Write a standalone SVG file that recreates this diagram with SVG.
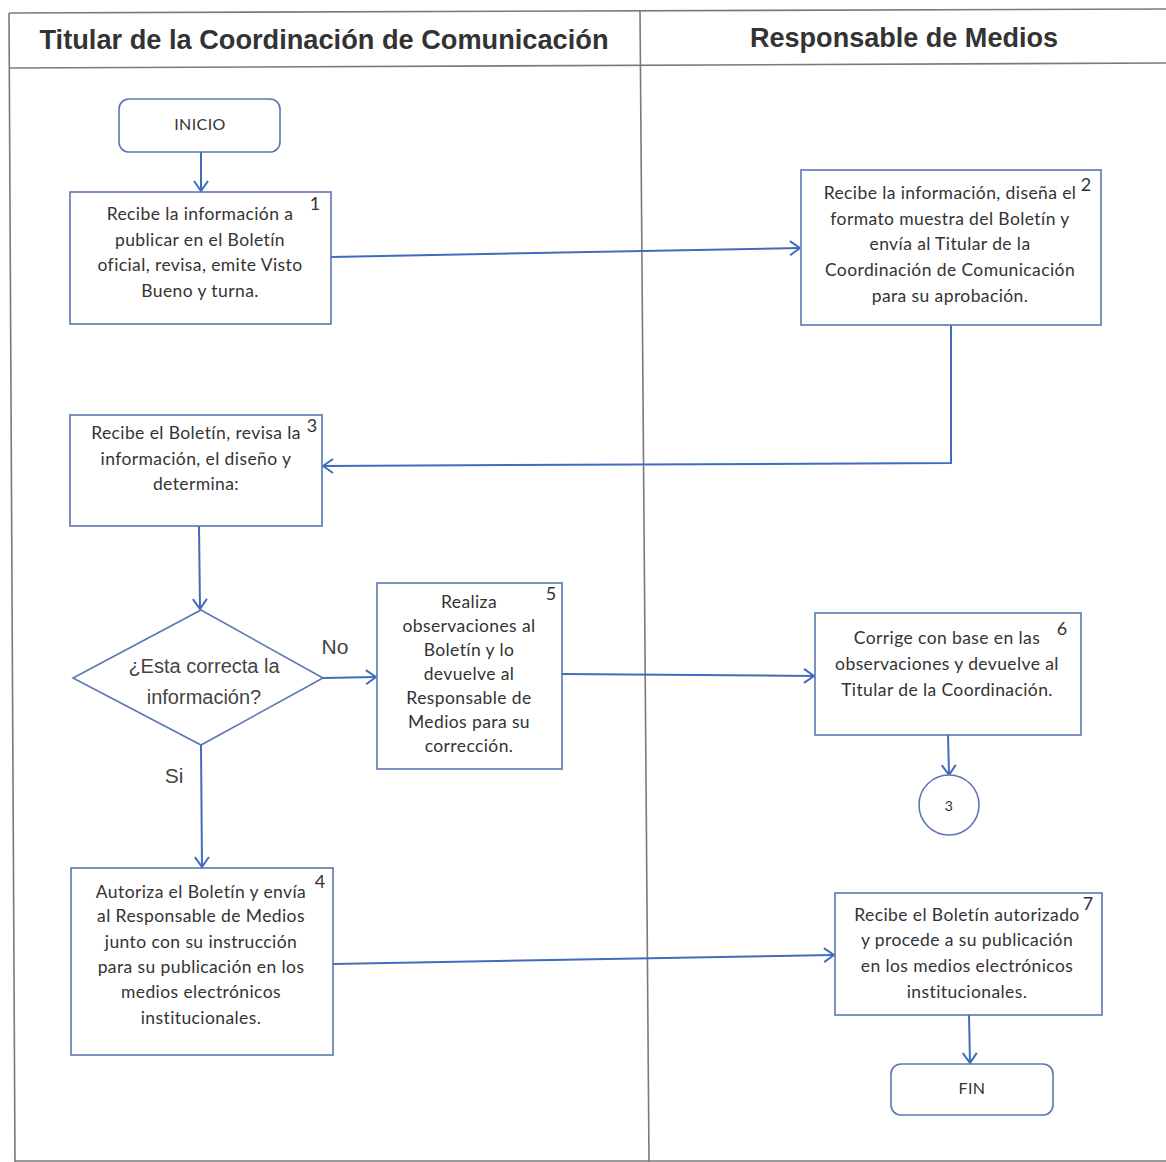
<svg xmlns="http://www.w3.org/2000/svg" width="1166" height="1162" viewBox="0 0 1166 1162">
  <style>
    .frame { stroke: #7a7a7a; stroke-width: 1.6; fill: none; }
    .lane-title { font-family: "Liberation Sans", Arial, sans-serif; font-weight: bold; font-size: 27px; fill: #333; text-anchor: middle; }
    .box { fill: #ffffff; stroke: #5b77b0; stroke-width: 1.6; }
    .txt { font-family: Lato, "Open Sans", sans-serif; font-size: 17.5px; letter-spacing: 0.4px; fill: #333; text-anchor: middle; }
    .num { font-family: Lato, "Open Sans", sans-serif; font-size: 18px; fill: #333; text-anchor: middle; }
    .q { font-family: "Liberation Sans", Arial, sans-serif; font-size: 20px; fill: #444; text-anchor: middle; }
    .lbl { font-family: "Liberation Sans", Arial, sans-serif; font-size: 21px; fill: #444; text-anchor: middle; }
    .flow { fill: none; stroke: #3f6cbc; stroke-width: 2; marker-end: url(#arrow); }
  </style>
  <defs>
    <marker id="arrow" viewBox="0 0 12 16" refX="11" refY="8" markerWidth="12" markerHeight="16" markerUnits="userSpaceOnUse" orient="auto">
      <path d="M1,1 L11,8 L1,15" fill="none" stroke="#3f6cbc" stroke-width="2"/>
    </marker>
  </defs>

  <rect width="1166" height="1162" fill="#ffffff"/>

  <!-- swimlane table -->
  <g id="lanes">
    <line class="frame" x1="9" y1="13" x2="1166" y2="9"/>
    <line class="frame" x1="9" y1="68" x2="1166" y2="63"/>
    <line class="frame" x1="9" y1="13" x2="15" y2="1162"/>
    <line class="frame" x1="640" y1="11" x2="649" y2="1162"/>
    <line class="frame" x1="15" y1="1161" x2="1166" y2="1161"/>
    <text class="lane-title" x="324" y="49" textLength="569" lengthAdjust="spacingAndGlyphs">Titular de la Coordinación de Comunicación</text>
    <text class="lane-title" x="904" y="47" textLength="308" lengthAdjust="spacingAndGlyphs">Responsable de Medios</text>
  </g>

  <!-- connectors -->
  <g id="connectors">
    <path class="flow" d="M201,152 L201,191"/>
    <path class="flow" d="M331,257 L800,248"/>
    <path class="flow" d="M951,325 L951,463 L323,466"/>
    <path class="flow" d="M199,526 L200,609"/>
    <path class="flow" d="M323,678 L376,677"/>
    <path class="flow" d="M562,674 L814,676"/>
    <path class="flow" d="M948,735 L949,775"/>
    <path class="flow" d="M201,745 L202,867"/>
    <path class="flow" d="M333,964 L834,955"/>
    <path class="flow" d="M969,1015 L970,1063"/>
    <text class="lbl" x="335" y="654">No</text>
    <text class="lbl" x="174" y="783">Si</text>
  </g>

  <g id="inicio">
    <rect class="box" x="119" y="99" width="161" height="53" rx="10"/>
    <text class="txt" x="200" y="130" style="font-size:16px">INICIO</text>
  </g>

  <g id="step1">
    <rect class="box" x="70" y="192" width="261" height="132"/>
    <text class="num" x="315" y="210">1</text>
    <text class="txt" x="200" y="220">Recibe la información a</text>
    <text class="txt" x="200" y="246">publicar en el Boletín</text>
    <text class="txt" x="200" y="271">oficial, revisa, emite Visto</text>
    <text class="txt" x="200" y="297">Bueno y turna.</text>
  </g>

  <g id="step2">
    <rect class="box" x="801" y="170" width="300" height="155"/>
    <text class="num" x="1086" y="191">2</text>
    <text class="txt" x="950" y="199">Recibe la información, diseña el</text>
    <text class="txt" x="950" y="225">formato muestra del Boletín y</text>
    <text class="txt" x="950" y="250">envía al Titular de la</text>
    <text class="txt" x="950" y="276">Coordinación de Comunicación</text>
    <text class="txt" x="950" y="302">para su aprobación.</text>
  </g>

  <g id="step3">
    <rect class="box" x="70" y="415" width="252" height="111"/>
    <text class="num" x="312" y="432">3</text>
    <text class="txt" x="196" y="439">Recibe el Boletín, revisa la</text>
    <text class="txt" x="196" y="465">información, el diseño y</text>
    <text class="txt" x="196" y="490">determina:</text>
  </g>

  <g id="decision">
    <polygon class="box" points="201,610 323,678 201,745 73,678"/>
    <text class="q" x="204" y="673">¿Esta correcta la</text>
    <text class="q" x="204" y="704">información?</text>
  </g>

  <g id="step5">
    <rect class="box" x="377" y="583" width="185" height="186"/>
    <text class="num" x="551" y="600">5</text>
    <text class="txt" x="469" y="608">Realiza</text>
    <text class="txt" x="469" y="632">observaciones al</text>
    <text class="txt" x="469" y="656">Boletín y lo</text>
    <text class="txt" x="469" y="680">devuelve al</text>
    <text class="txt" x="469" y="704">Responsable de</text>
    <text class="txt" x="469" y="728">Medios para su</text>
    <text class="txt" x="469" y="752">corrección.</text>
  </g>

  <g id="step6">
    <rect class="box" x="815" y="613" width="266" height="122"/>
    <text class="num" x="1062" y="635">6</text>
    <text class="txt" x="947" y="644">Corrige con base en las</text>
    <text class="txt" x="947" y="670">observaciones y devuelve al</text>
    <text class="txt" x="947" y="696">Titular de la Coordinación.</text>
  </g>

  <g id="connector3">
    <circle class="box" cx="949" cy="805" r="30"/>
    <text class="txt" x="949" y="811" style="font-size:14px">3</text>
  </g>

  <g id="step4">
    <rect class="box" x="71" y="868" width="262" height="187"/>
    <text class="num" x="320" y="888">4</text>
    <text class="txt" x="201" y="898">Autoriza el Boletín y envía</text>
    <text class="txt" x="201" y="922">al Responsable de Medios</text>
    <text class="txt" x="201" y="948">junto con su instrucción</text>
    <text class="txt" x="201" y="973">para su publicación en los</text>
    <text class="txt" x="201" y="998">medios electrónicos</text>
    <text class="txt" x="201" y="1024">institucionales.</text>
  </g>

  <g id="step7">
    <rect class="box" x="835" y="893" width="267" height="122"/>
    <text class="num" x="1088" y="910">7</text>
    <text class="txt" x="967" y="921">Recibe el Boletín autorizado</text>
    <text class="txt" x="967" y="946">y procede a su publicación</text>
    <text class="txt" x="967" y="972">en los medios electrónicos</text>
    <text class="txt" x="967" y="998">institucionales.</text>
  </g>

  <g id="fin">
    <rect class="box" x="891" y="1064" width="162" height="51" rx="10"/>
    <text class="txt" x="972" y="1094" style="font-size:16px">FIN</text>
  </g>
</svg>
